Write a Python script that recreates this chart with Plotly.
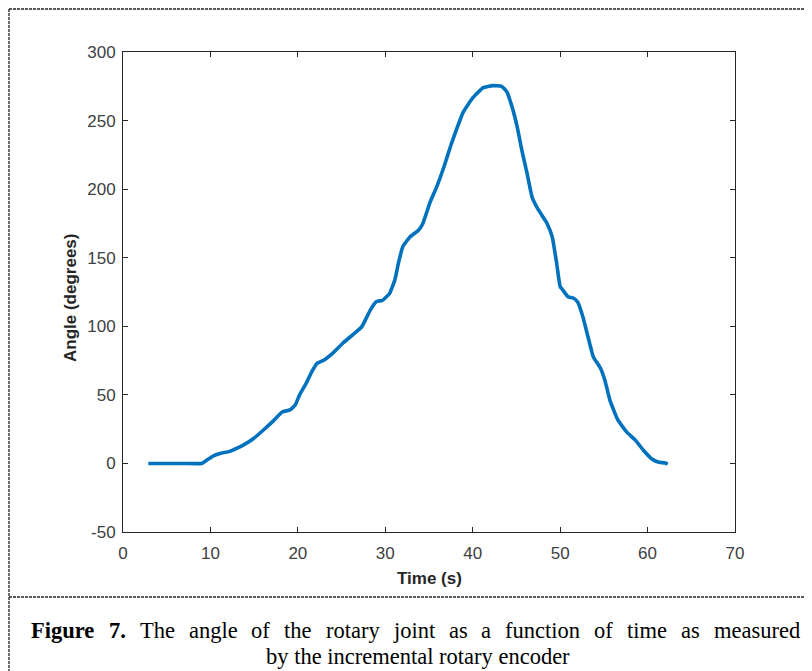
import plotly.graph_objects as go

time_s = [2.9, 5, 7, 9.0, 9.5, 10.3, 11.1, 12.2, 13.0, 13.8, 14.9, 16.0, 17.2, 18.2, 19.1, 19.7,
          20.2, 21.0, 21.6, 22.2, 22.9, 24.0, 25.2, 26.5, 27.3, 28.3, 29.0, 29.7, 30.5, 31.1,
          31.5, 32.0, 32.8, 33.8, 34.3, 35.1, 35.9, 36.8, 37.5, 38.0, 38.9, 40.0, 41.2, 42.3,
          43.3, 43.9, 44.5, 45.1, 45.6, 46.2, 46.8, 47.5, 48.5, 49.1, 49.6, 50.0, 50.3, 50.9,
          51.5, 52.0, 52.6, 53.2, 53.8, 54.6, 55.1, 55.7, 56.6, 57.6, 58.6, 59.5, 60.5, 61.2,
          62.0, 62.3]
angle_deg = [0, 0, 0, 0, 2, 5.4, 7.2, 8.8, 11, 13.5, 18, 24, 31, 37.5, 39, 42.6,
             50, 59, 67, 73, 75, 80.5, 88, 95, 99.5, 112, 118, 119, 124, 134,
             146, 158, 165, 170, 175, 190, 202, 218, 232, 241, 256, 266.5, 274, 275.5,
             275, 271, 260, 245, 229, 212, 194, 185, 175, 165, 146, 129, 126.5, 121.5,
             120.6, 117.7, 107, 92, 77.6, 69.6, 61, 46, 31.7, 23, 17, 9.8, 3.2, 1,
             0.3, -0.5]

x_ticks = [0, 10, 20, 30, 40, 50, 60, 70]
y_ticks = [-50, 0, 50, 100, 150, 200, 250, 300]

x_title = "Time (s)"
y_title = "Angle (degrees)"
caption_bold = "Figure 7."
caption_line1 = "The angle of the rotary joint as a function of time as measured"
caption_line2 = "by the incremental rotary encoder"

OFF = 8  # page body margin
PW, PH = 812, 671
W, H = PW - OFF, PH - OFF
L, R, T, B = 123, 735, 52, 532
pw, ph = R - L, B - T


def px(x):
    return (x - L) / pw


def py(y):
    return (B - y) / ph


# Times (Liberation Serif) advance widths, per 1000 em
TIMES = dict(a=444, b=500, c=444, d=500, e=444, f=333, g=500, h=500, i=278, j=278, k=500,
             l=278, m=778, n=500, o=500, p=500, q=500, r=333, s=389, t=278, u=500, v=500,
             w=722, x=500, y=500, z=444, T=611)
TIMES_B = {"F": 611, "i": 278, "g": 500, "u": 556, "r": 444, "e": 444, "7": 500, ".": 250}
CAP_SIZE = 22.5


def word_w(word, table):
    return sum(table.get(ch, 500) for ch in word) * CAP_SIZE / 1000.0


fig = go.Figure()
fig.add_trace(go.Scatter(x=time_s, y=angle_deg, mode="lines",
                         line=dict(color="#0072BD", width=3.6, shape="spline", smoothing=0.4),
                         showlegend=False, hoverinfo="skip"))

axis_common = dict(showline=True, linecolor="#262626", linewidth=1, mirror="allticks",
                   ticks="inside", ticklen=5, tickcolor="#262626", tickwidth=1,
                   showgrid=False, zeroline=False,
                   tickfont=dict(family="Liberation Sans, Arial, sans-serif", size=17, color="#404040"))

fig.update_xaxes(range=[0, 70], tickvals=x_ticks, ticktext=[str(v) for v in x_ticks],
                 ticklabelstandoff=6, **axis_common)
fig.update_yaxes(range=[-50, 300], tickvals=y_ticks, ticktext=[str(v) for v in y_ticks],
                 ticklabelstandoff=3, **axis_common)

dash_style = dict(color="#222222", width=1.3, dash="3px,1px")
xl, xr = px(9), px(808)
yt, ysep, yb = py(9), py(597), py(680)
shapes = [
    dict(type="line", xref="paper", yref="paper", x0=xl, x1=xr, y0=yt, y1=yt, line=dash_style),
    dict(type="line", xref="paper", yref="paper", x0=xl, x1=xr, y0=ysep, y1=ysep, line=dash_style),
    dict(type="line", xref="paper", yref="paper", x0=xl, x1=xl, y0=yt, y1=yb, line=dash_style),
    dict(type="line", xref="paper", yref="paper", x0=xr, x1=xr, y0=yt, y1=yb, line=dash_style),
]

sans = "Liberation Sans, Arial, sans-serif"
serif = "Liberation Serif, Times New Roman, serif"
annotations = [
    dict(text="<b>" + x_title + "</b>", xref="paper", yref="paper", x=0.5, y=py(578),
         xanchor="center", yanchor="middle", showarrow=False,
         font=dict(family=sans, size=17, color="#262626")),
    dict(text="<b>" + y_title + "</b>", xref="paper", yref="paper", x=px(70), y=py(298),
         xanchor="center", yanchor="middle", textangle=-90, showarrow=False,
         font=dict(family=sans, size=17, color="#262626")),
    dict(text=caption_line2, xref="paper", yref="paper", x=px(418), y=py(656),
         xanchor="center", yanchor="middle", showarrow=False,
         font=dict(family=serif, size=CAP_SIZE, color="#000000")),
]

# justified first caption line: words spread between left and right edges
words = [(w, True) for w in caption_bold.split(" ")] + [(w, False) for w in caption_line1.split(" ")]
widths = [word_w(w, TIMES_B if b else TIMES) for w, b in words]
x_start, x_end = 31.0, 800.0
gap = (x_end - x_start - sum(widths)) / (len(words) - 1)
xcur = x_start
for (w, b), wd in zip(words, widths):
    annotations.append(dict(text=("<b>%s</b>" % w) if b else w, xref="paper", yref="paper",
                            x=px(xcur), y=py(630), xanchor="left", yanchor="middle",
                            showarrow=False, borderpad=0, borderwidth=0,
                            font=dict(family=serif, size=CAP_SIZE, color="#000000")))
    xcur += wd + gap

fig.update_layout(width=W, height=H,
                  margin=dict(l=L - OFF, r=PW - R, t=T - OFF, b=PH - B, autoexpand=False),
                  paper_bgcolor="white", plot_bgcolor="white",
                  shapes=shapes, annotations=annotations)

fig.write_html("out.html")
